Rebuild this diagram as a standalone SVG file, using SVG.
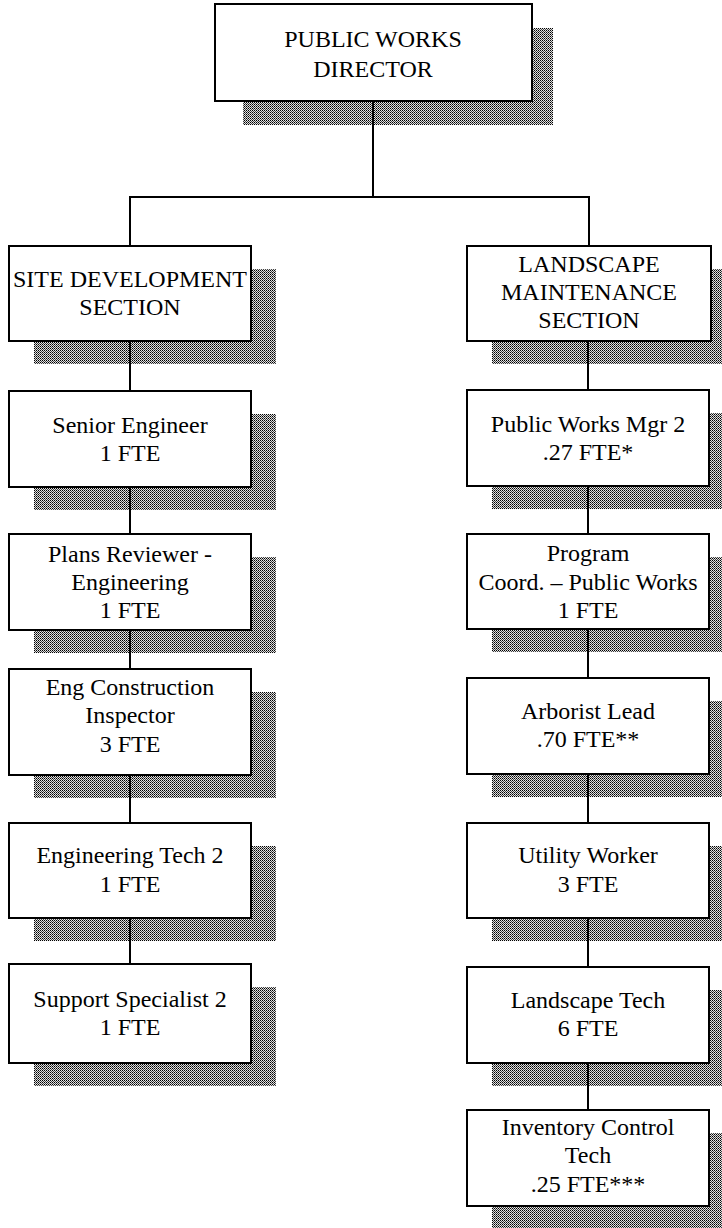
<svg xmlns="http://www.w3.org/2000/svg" width="722" height="1228" viewBox="0 0 722 1228">
<defs>
<pattern id="dots" width="2" height="2" patternUnits="userSpaceOnUse">
<rect width="2" height="2" fill="#e0e0e0"/>
<rect x="0" y="0" width="1" height="1" fill="#000000"/>
<rect x="1" y="1" width="1" height="1" fill="#444444"/>
</pattern>
</defs>
<style>
.box{fill:#ffffff;stroke:#000000;stroke-width:2}
.shadow{fill:url(#dots)}
.t{font-family:"Liberation Serif","Times New Roman",serif;font-size:24px;fill:#000000;text-anchor:middle}
.conn{stroke:#000000;stroke-width:2;fill:none}
</style>
<rect width="722" height="1228" fill="#ffffff"/>

<g id="director">
<rect class="shadow" x="243" y="28" width="310" height="97"/>
<rect class="box" x="215" y="4" width="317" height="97"/>
<text class="t" x="373" y="47">PUBLIC WORKS</text>
<text class="t" x="373" y="77">DIRECTOR</text>
</g>

<g id="site-development">
<rect class="shadow" x="34" y="269" width="242" height="95"/>
<rect class="box" x="9" y="246" width="242" height="95"/>
<text class="t" x="130" y="287">SITE DEVELOPMENT</text>
<text class="t" x="130" y="315">SECTION</text>
</g>

<g id="landscape-maintenance">
<rect class="shadow" x="492" y="269" width="244" height="95"/>
<rect class="box" x="467" y="246" width="244" height="95"/>
<text class="t" x="589" y="272">LANDSCAPE</text>
<text class="t" x="589" y="300">MAINTENANCE</text>
<text class="t" x="589" y="328">SECTION</text>
</g>

<g id="senior-engineer">
<rect class="shadow" x="34" y="414" width="242" height="96"/>
<rect class="box" x="9" y="391" width="242" height="96"/>
<text class="t" x="130" y="433">Senior Engineer</text>
<text class="t" x="130" y="461">1 FTE</text>
</g>

<g id="plans-reviewer">
<rect class="shadow" x="34" y="557" width="242" height="96"/>
<rect class="box" x="9" y="534" width="242" height="96"/>
<text class="t" x="130" y="562">Plans Reviewer -</text>
<text class="t" x="130" y="590">Engineering</text>
<text class="t" x="130" y="618">1 FTE</text>
</g>

<g id="eng-construction-inspector">
<rect class="shadow" x="34" y="692" width="242" height="106"/>
<rect class="box" x="9" y="669" width="242" height="106"/>
<text class="t" x="130" y="695">Eng Construction</text>
<text class="t" x="130" y="723">Inspector</text>
<text class="t" x="130" y="752">3 FTE</text>
</g>

<g id="engineering-tech-2">
<rect class="shadow" x="34" y="846" width="242" height="95"/>
<rect class="box" x="9" y="823" width="242" height="95"/>
<text class="t" x="130" y="863">Engineering Tech 2</text>
<text class="t" x="130" y="892">1 FTE</text>
</g>

<g id="support-specialist-2">
<rect class="shadow" x="34" y="987" width="242" height="99"/>
<rect class="box" x="9" y="964" width="242" height="99"/>
<text class="t" x="130" y="1007">Support Specialist 2</text>
<text class="t" x="130" y="1035">1 FTE</text>
</g>

<g id="public-works-mgr-2">
<rect class="shadow" x="492" y="413" width="242" height="96"/>
<rect class="box" x="467" y="390" width="242" height="96"/>
<text class="t" x="588" y="432">Public Works Mgr 2</text>
<text class="t" x="588" y="460">.27 FTE*</text>
</g>

<g id="program-coord">
<rect class="shadow" x="492" y="557" width="242" height="95"/>
<rect class="box" x="467" y="534" width="242" height="95"/>
<text class="t" x="588" y="561">Program</text>
<text class="t" x="588" y="590">Coord. – Public Works</text>
<text class="t" x="588" y="618">1 FTE</text>
</g>

<g id="arborist-lead">
<rect class="shadow" x="492" y="701" width="242" height="96"/>
<rect class="box" x="467" y="678" width="242" height="96"/>
<text class="t" x="588" y="719">Arborist Lead</text>
<text class="t" x="588" y="747">.70 FTE**</text>
</g>

<g id="utility-worker">
<rect class="shadow" x="492" y="846" width="242" height="95"/>
<rect class="box" x="467" y="823" width="242" height="95"/>
<text class="t" x="588" y="863">Utility Worker</text>
<text class="t" x="588" y="892">3 FTE</text>
</g>

<g id="landscape-tech">
<rect class="shadow" x="492" y="990" width="242" height="96"/>
<rect class="box" x="467" y="967" width="242" height="96"/>
<text class="t" x="588" y="1008">Landscape Tech</text>
<text class="t" x="588" y="1036">6 FTE</text>
</g>

<g id="inventory-control-tech">
<rect class="shadow" x="492" y="1133" width="242" height="96"/>
<rect class="box" x="467" y="1110" width="242" height="96"/>
<text class="t" x="588" y="1135">Inventory Control</text>
<text class="t" x="588" y="1163">Tech</text>
<text class="t" x="588" y="1192">.25 FTE***</text>
</g>

<g id="connectors" class="conn">
<path d="M373 101 V197"/>
<path d="M130 246 V197 H589 V246"/>
<path d="M130 341 V391"/>
<path d="M130 487 V534"/>
<path d="M130 630 V669"/>
<path d="M130 775 V823"/>
<path d="M130 918 V964"/>
<path d="M588 341 V390"/>
<path d="M588 486 V534"/>
<path d="M588 629 V678"/>
<path d="M588 774 V823"/>
<path d="M588 918 V967"/>
<path d="M588 1063 V1110"/>
</g>
</svg>
